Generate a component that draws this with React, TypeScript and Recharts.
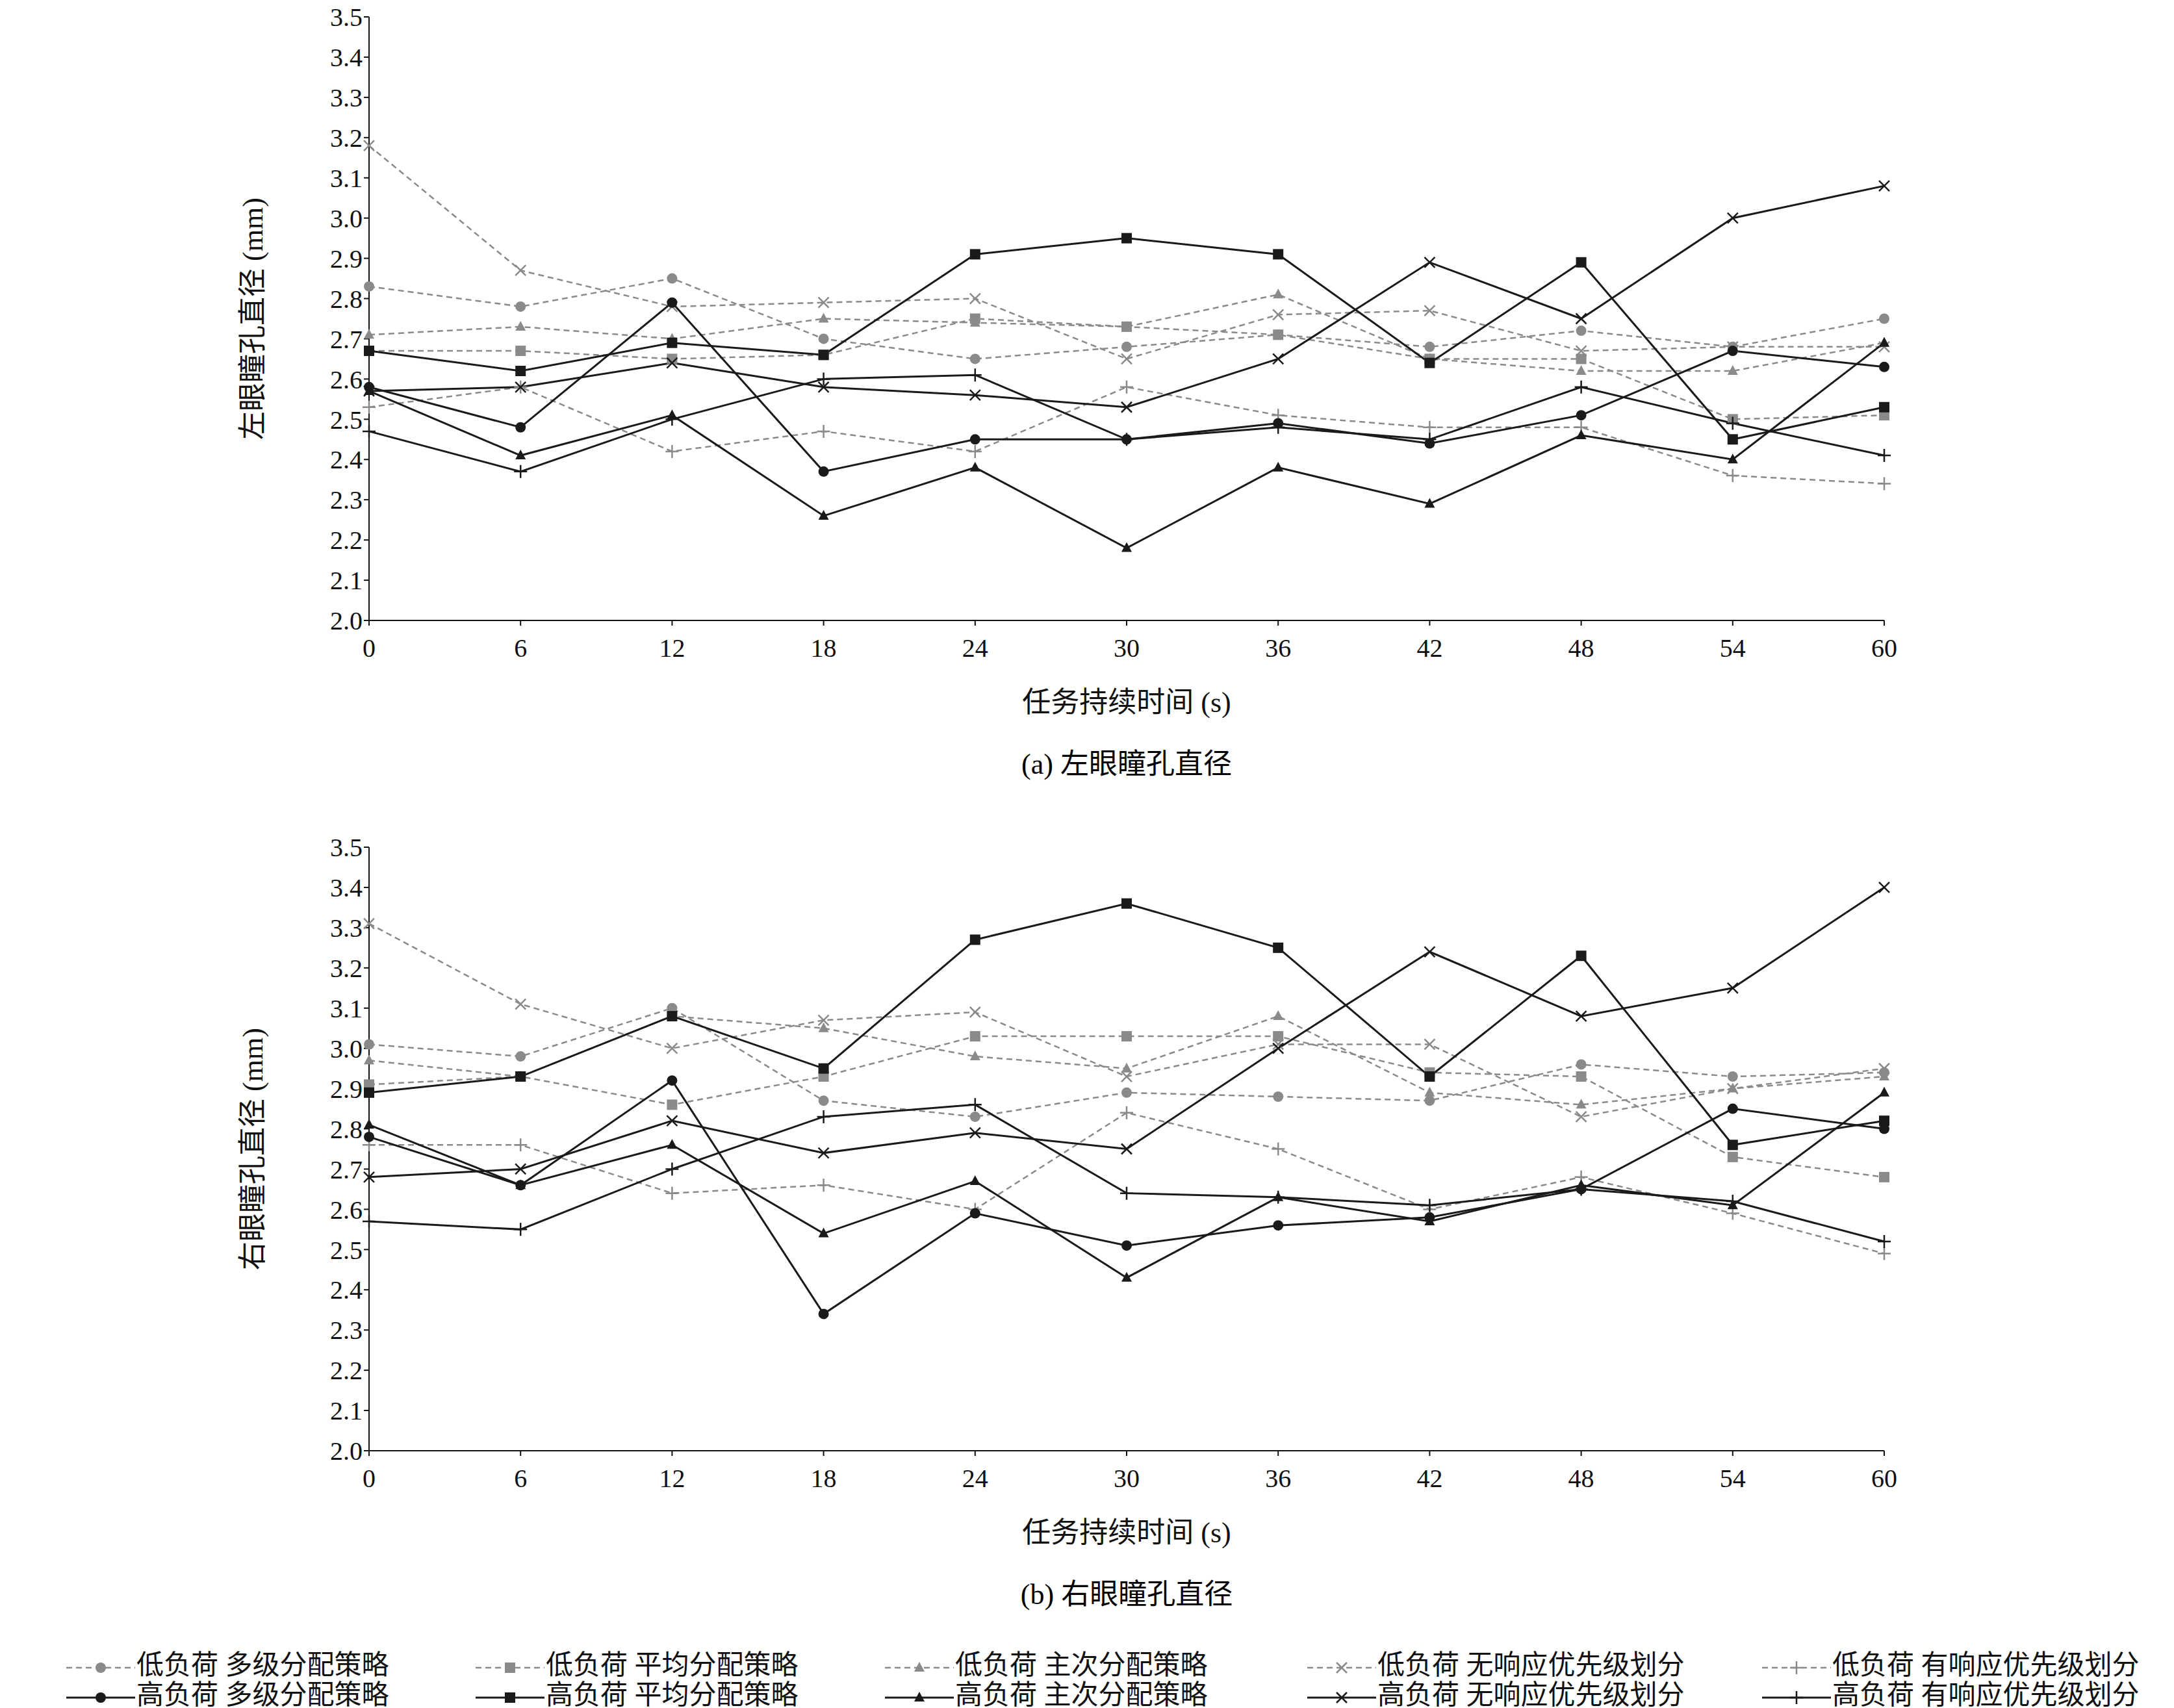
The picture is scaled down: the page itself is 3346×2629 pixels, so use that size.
import React from 'react'
import { LineChart, Line, XAxis, YAxis } from 'recharts'

const times = [0, 6, 12, 18, 24, 30, 36, 42, 48, 54, 60]
const yTicks = [2.0, 2.1, 2.2, 2.3, 2.4, 2.5, 2.6, 2.7, 2.8, 2.9, 3.0, 3.1, 3.2, 3.3, 3.4, 3.5]

// 左眼
const leftLowMulti = [2.83, 2.78, 2.85, 2.70, 2.65, 2.68, 2.71, 2.68, 2.72, 2.68, 2.75]
const leftLowAvg = [2.67, 2.67, 2.65, 2.66, 2.75, 2.73, 2.71, 2.65, 2.65, 2.50, 2.51]
const leftLowMain = [2.71, 2.73, 2.70, 2.75, 2.74, 2.73, 2.81, 2.65, 2.62, 2.62, 2.69]
const leftLowNoResp = [3.18, 2.87, 2.78, 2.79, 2.80, 2.65, 2.76, 2.77, 2.67, 2.68, 2.68]
const leftLowResp = [2.53, 2.58, 2.42, 2.47, 2.42, 2.58, 2.51, 2.48, 2.48, 2.36, 2.34]
const leftHighMulti = [2.58, 2.48, 2.79, 2.37, 2.45, 2.45, 2.49, 2.44, 2.51, 2.67, 2.63]
const leftHighAvg = [2.67, 2.62, 2.69, 2.66, 2.91, 2.95, 2.91, 2.64, 2.89, 2.45, 2.53]
const leftHighMain = [2.57, 2.41, 2.51, 2.26, 2.38, 2.18, 2.38, 2.29, 2.46, 2.40, 2.69]
const leftHighNoResp = [2.57, 2.58, 2.64, 2.58, 2.56, 2.53, 2.65, 2.89, 2.75, 3.00, 3.08]
const leftHighResp = [2.47, 2.37, 2.50, 2.60, 2.61, 2.45, 2.48, 2.45, 2.58, 2.49, 2.41]

// 右眼
const rightLowMulti = [3.01, 2.98, 3.10, 2.87, 2.83, 2.89, 2.88, 2.87, 2.96, 2.93, 2.94]
const rightLowAvg = [2.91, 2.93, 2.86, 2.93, 3.03, 3.03, 3.03, 2.94, 2.93, 2.73, 2.68]
const rightLowMain = [2.97, 2.93, 3.08, 3.05, 2.98, 2.95, 3.08, 2.89, 2.86, 2.90, 2.93]
const rightLowNoResp = [3.31, 3.11, 3.00, 3.07, 3.09, 2.93, 3.01, 3.01, 2.83, 2.90, 2.95]
const rightLowResp = [2.76, 2.76, 2.64, 2.66, 2.60, 2.84, 2.75, 2.60, 2.68, 2.59, 2.49]
const rightHighMulti = [2.78, 2.66, 2.92, 2.34, 2.59, 2.51, 2.56, 2.58, 2.65, 2.85, 2.80]
const rightHighAvg = [2.89, 2.93, 3.08, 2.95, 3.27, 3.36, 3.25, 2.93, 3.23, 2.76, 2.82]
const rightHighMain = [2.81, 2.66, 2.76, 2.54, 2.67, 2.43, 2.63, 2.57, 2.66, 2.61, 2.89]
const rightHighNoResp = [2.68, 2.70, 2.82, 2.74, 2.79, 2.75, 3.00, 3.24, 3.08, 3.15, 3.40]
const rightHighResp = [2.57, 2.55, 2.70, 2.83, 2.86, 2.64, 2.63, 2.61, 2.65, 2.62, 2.52]

const seriesNames = [
  '低负荷 多级分配策略', '低负荷 平均分配策略', '低负荷 主次分配策略', '低负荷 无响应优先级划分', '低负荷 有响应优先级划分',
  '高负荷 多级分配策略', '高负荷 平均分配策略', '高负荷 主次分配策略', '高负荷 无响应优先级划分', '高负荷 有响应优先级划分',
]
const shapes = ['circle', 'square', 'triangle', 'x', 'plus', 'circle', 'square', 'triangle', 'x', 'plus']

const leftSeries = [leftLowMulti, leftLowAvg, leftLowMain, leftLowNoResp, leftLowResp,
  leftHighMulti, leftHighAvg, leftHighMain, leftHighNoResp, leftHighResp]
const rightSeries = [rightLowMulti, rightLowAvg, rightLowMain, rightLowNoResp, rightLowResp,
  rightHighMulti, rightHighAvg, rightHighMain, rightHighNoResp, rightHighResp]

const GRAY = '#8a8a8a'
const BLACK = '#1a1a1a'
const FONT = '"Liberation Serif", "Noto Sans CJK SC", serif'

const buildRows = (series: number[][]) =>
  times.map((t, i) => {
    const row: Record<string, number> = { t }
    series.forEach((s, k) => { row['s' + k] = s[i] })
    return row
  })

const Marker = ({ cx, cy, shape, color }: { cx: number; cy: number; shape: string; color: string }) => {
  if (cx == null || cy == null) return null
  const r = 8
  if (shape === 'circle') return <circle cx={cx} cy={cy} r={r} fill={color} />
  if (shape === 'square') return <rect x={cx - r} y={cy - r} width={2 * r} height={2 * r} fill={color} />
  if (shape === 'triangle')
    return <polygon points={`${cx},${cy - r - 1} ${cx - r},${cy + r - 2} ${cx + r},${cy + r - 2}`} fill={color} />
  if (shape === 'x')
    return <path d={`M${cx - r},${cy - r}L${cx + r},${cy + r}M${cx - r},${cy + r}L${cx + r},${cy - r}`} stroke={color} strokeWidth={2.5} />
  return <path d={`M${cx - r - 2},${cy}L${cx + r + 2},${cy}M${cx},${cy - r - 2}L${cx},${cy + r + 2}`} stroke={color} strokeWidth={2.5} />
}

const tickStyle = { fontSize: 40, fill: '#111', fontFamily: FONT }

function Panel({ series, yLabel, caption, top }: { series: number[][]; yLabel: string; caption: string; top: number }) {
  const data = buildRows(series)
  return (
    <div style={{ position: 'absolute', left: 0, top }}>
      <LineChart width={3346} height={1105} data={data} margin={{ top: 26, right: 446, left: 448, bottom: 0 }}>
        <XAxis dataKey="t" type="number" domain={[0, 60]} ticks={times} height={150}
          tick={tickStyle} tickMargin={20} tickSize={8} stroke="#111" strokeWidth={2}
          label={{ value: '任务持续时间 (s)', position: 'insideTop', offset: 110, style: { fontSize: 44, fill: '#111', fontFamily: FONT } }} />
        <XAxis xAxisId="top" dataKey="t" type="number" domain={[0, 60]} orientation="top" height={0}
          tick={false} tickLine={false} stroke="#111" strokeWidth={2} />
        <YAxis domain={[2.0, 3.5]} ticks={yTicks} width={120} interval={0}
          tickFormatter={(v: number) => v.toFixed(1)} tick={tickStyle} tickSize={8} stroke="#111" strokeWidth={2}
          label={{ value: yLabel, angle: -90, position: 'insideLeft', offset: -60, style: { fontSize: 44, fill: '#111', fontFamily: FONT, textAnchor: 'middle' } }} />
        <YAxis yAxisId="right" orientation="right" width={0} tick={false} tickLine={false} stroke="#111" strokeWidth={2} />
        {series.map((_, k) => {
          const color = k < 5 ? GRAY : BLACK
          return (
            <Line key={k} dataKey={'s' + k} type="linear" stroke={color} strokeWidth={k < 5 ? 2.5 : 3}
              strokeDasharray={k < 5 ? '9 6' : undefined} isAnimationActive={false}
              dot={(p: any) => <Marker key={p.index} cx={p.cx} cy={p.cy} shape={shapes[k]} color={color} />} />
          )
        })}
      </LineChart>
      <div style={{ position: 'absolute', left: 568, width: 2332, top: 1140, textAlign: 'center', fontSize: 44, fontFamily: FONT }}>
        {caption}
      </div>
    </div>
  )
}

const LegendSample = ({ k }: { k: number }) => {
  const color = k < 5 ? GRAY : BLACK
  return (
    <svg width={110} height={30} style={{ verticalAlign: 'middle' }}>
      <line x1={2} y1={15} x2={108} y2={15} stroke={color} strokeWidth={k < 5 ? 2.5 : 3} strokeDasharray={k < 5 ? '9 6' : undefined} />
      <Marker cx={55} cy={15} shape={shapes[k]} color={color} />
    </svg>
  )
}

export default function App() {
  return (
    <div style={{ position: 'absolute', left: 0, top: 0, width: 3346, height: 2629, background: '#fff', fontFamily: FONT, overflow: 'hidden' }}>
      <Panel series={leftSeries} yLabel="左眼瞳孔直径 (mm)" caption="(a) 左眼瞳孔直径" top={0} />
      <Panel series={rightSeries} yLabel="右眼瞳孔直径 (mm)" caption="(b) 右眼瞳孔直径" top={1278} />
      <div style={{ position: 'absolute', left: 100, top: 2540, width: 3240, display: 'grid', gridTemplateColumns: '630px 630px 650px 700px 630px', rowGap: 0 }}>
        {seriesNames.map((n, k) => (
          <div key={k} style={{ fontSize: 42, lineHeight: '46px', height: 46, whiteSpace: 'nowrap', color: '#111' }}>
            <LegendSample k={k} />{n}
          </div>
        ))}
      </div>
    </div>
  )
}
